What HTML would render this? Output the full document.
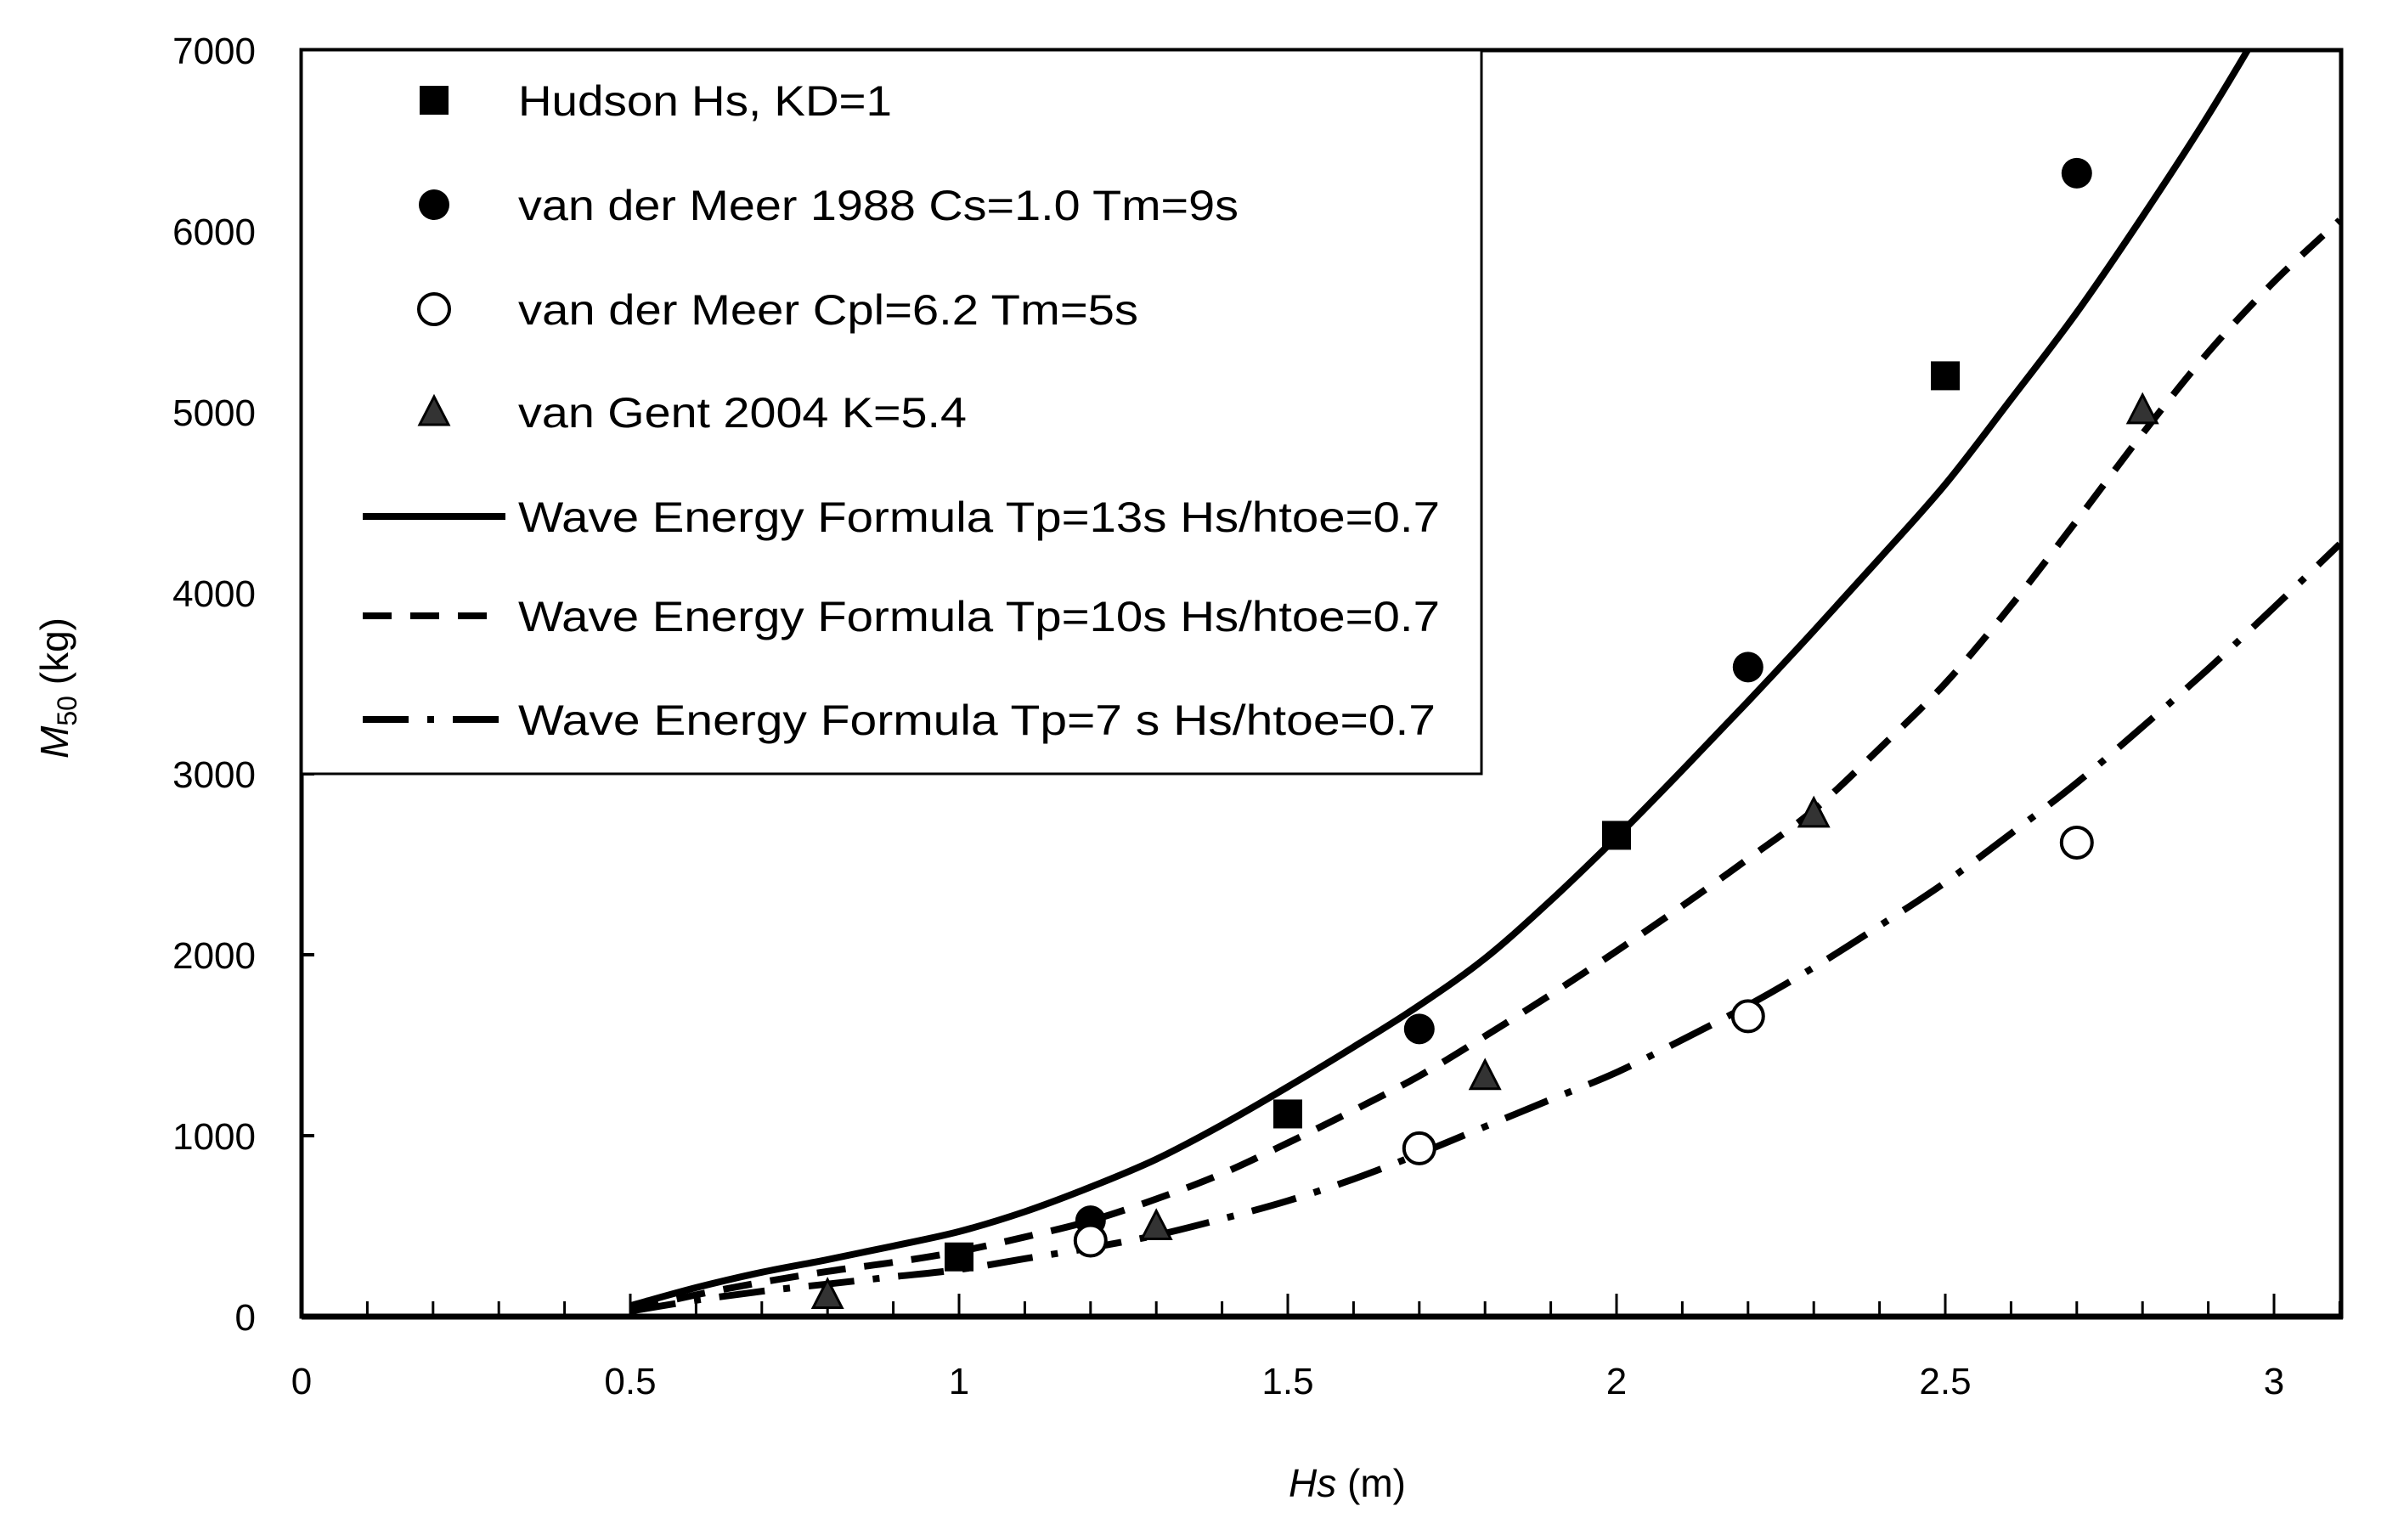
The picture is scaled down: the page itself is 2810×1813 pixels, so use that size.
<!DOCTYPE html>
<html><head><meta charset="utf-8"><style>
html,body{margin:0;padding:0;background:#fff;}
svg{display:block;font-family:"Liberation Sans",sans-serif;}
</style></head><body>
<svg id="chart" width="2810" height="1813" viewBox="0 0 2810 1813" xmlns="http://www.w3.org/2000/svg">
<defs><clipPath id="plotclip"><rect x="355" y="59" width="2401" height="1491"/></clipPath></defs>
<g id="axes"></g>
<g id="series" clip-path="url(#plotclip)"></g>
<g id="markers"></g>
<g id="legend"></g>
<text transform="translate(80,810) rotate(-90)" text-anchor="middle" font-size="46"><tspan font-style="italic">M</tspan><tspan font-size="32" dy="10">50</tspan><tspan dy="-10"> (kg)</tspan></text>
<text x="1586" y="1762" text-anchor="middle" font-size="46"><tspan font-style="italic">Hs</tspan> (m)</text>
</svg>
<script>
const xTicks=[0,0.5,1,1.5,2,2.5,3];
const yTicks=[0,1000,2000,3000,4000,5000,6000,7000];
const hudsonX=[1,1.5,2,2.5];
const hudsonY=[330,1120,2660,5200];
const vdm88X=[1.2,1.7,2.2,2.7];
const vdm88Y=[530,1590,3590,6320];
const vdmPlX=[1.2,1.7,2.2,2.7];
const vdmPlY=[420,930,1660,2620];
const gentX=[0.8,1.3,1.8,2.3,2.8];
const gentY=[120,500,1330,2780,5010];
const curveX=[0.5,0.6,0.7,0.8,0.9,1.0,1.1,1.2,1.3,1.4,1.5,1.6,1.7,1.8,1.9,2.0,2.1,2.2,2.3,2.4,2.5,2.6,2.7,2.8,2.9,3.0,3.1];
const tp13Y=[60,160,245,315,390,470,580,716,870,1060,1270,1490,1720,1980,2300,2650,3020,3400,3790,4190,4600,5070,5550,6080,6640,7250,7900];
const tp10Y=[40,120,190,250,300,360,440,530,650,790,960,1140,1330,1550,1780,2020,2270,2530,2800,3140,3500,3930,4400,4880,5330,5720,6060];
const tp7Y=[30,90,140,180,220,260,320,380,450,540,640,760,900,1050,1200,1350,1530,1720,1930,2160,2400,2670,2950,3260,3580,3920,4270];

const X0=355, XS=774, Y0=1550, YS=0.213;
const sx=v=>X0+v*XS, sy=v=>Y0-v*YS;
const NS="http://www.w3.org/2000/svg";
function mk(tag,attrs,parent){const e=document.createElementNS(NS,tag);for(const k in attrs)e.setAttribute(k,attrs[k]);parent.appendChild(e);return e;}
const axes=document.getElementById('axes'), series=document.getElementById('series'), markers=document.getElementById('markers'), legend=document.getElementById('legend');

let fr=mk('rect',{x:355,y:59,width:2401,height:1491,fill:'none',stroke:'#000','stroke-width':5},axes);


let xa=mk('line',{x1:355,y1:1550,x2:2758,y2:1550,stroke:'#000','stroke-width':7},axes);


for(let i=1;i<=31;i++){const v=i/10;const major=(i%5===0);const x=sx(v);if(x>2756)break;
 const t=mk('line',{x1:x,y1:1550,x2:x,y2:1550-(major?27:18),stroke:'#000','stroke-width':3},axes);
 
 }
xTicks.forEach(v=>{const t=mk('text',{x:sx(v),y:1641,'text-anchor':'middle','font-size':44},axes);t.textContent=String(v);
 
 });
yTicks.forEach(v=>{const y=sy(v);
 const l=mk('line',{x1:355,y1:y,x2:370,y2:y,stroke:'#000','stroke-width':4},axes);
 
 
 const t=mk('text',{x:301,y:y+16,'text-anchor':'end','font-size':44},axes);t.textContent=String(v);
 
 });

function curve(ys,dash,name){
 const pts=curveX.map((x,i)=>[sx(x),sy(ys[i])]);
 let d='M'+pts[0][0].toFixed(1)+','+pts[0][1].toFixed(1);
 for(let i=0;i<pts.length-1;i++){const p0=pts[Math.max(0,i-1)],p1=pts[i],p2=pts[i+1],p3=pts[Math.min(pts.length-1,i+2)];
  const c1=[p1[0]+(p2[0]-p0[0])/6,p1[1]+(p2[1]-p0[1])/6],c2=[p2[0]-(p3[0]-p1[0])/6,p2[1]-(p3[1]-p1[1])/6];
  d+=`C${c1[0].toFixed(1)},${c1[1].toFixed(1)} ${c2[0].toFixed(1)},${c2[1].toFixed(1)} ${p2[0].toFixed(1)},${p2[1].toFixed(1)}`;}
 const p=mk('path',{d:d,fill:'none',stroke:'#000','stroke-width':8,'stroke-dasharray':dash,'stroke-linecap':'butt'},series);
 
 }
curve(tp13Y,'none','curve-tp13');
curve(tp10Y,'34,22','curve-tp10');
curve(tp7Y,'54,22,8,22','curve-tp7');

function square(x,y,g){return mk('rect',{x:x-17,y:y-17,width:34,height:34,fill:'#000'},g);}
function disc(x,y,g){return mk('circle',{cx:x,cy:y,r:18,fill:'#000'},g);}
function ring(x,y,g){return mk('circle',{cx:x,cy:y,r:18,fill:'#fff',stroke:'#000','stroke-width':4},g);}
function tri(x,y,g){return mk('path',{d:`M${x},${y-18}L${x+17},${y+15}L${x-17},${y+15}Z`,fill:'#333',stroke:'#000','stroke-width':3},g);}
hudsonX.forEach((v,i)=>{const e=square(sx(v),sy(hudsonY[i]),markers);});
vdm88X.forEach((v,i)=>{const e=disc(sx(v),sy(vdm88Y[i]),markers);});
vdmPlX.forEach((v,i)=>{const e=ring(sx(v),sy(vdmPlY[i]),markers);});
gentX.forEach((v,i)=>{const e=tri(sx(v),sy(gentY[i]),markers);});

let lb=mk('rect',{x:355,y:59,width:1389,height:852,fill:'#fff',stroke:'#000','stroke-width':3},legend);


const rows=[
 {y:118,t:'Hudson Hs, KD=1',k:'sq',w:440},
 {y:241,t:'van der Meer 1988 Cs=1.0 Tm=9s',k:'disc',w:848},
 {y:364,t:'van der Meer Cpl=6.2 Tm=5s',k:'ring',w:730},
 {y:485,t:'van Gent 2004 K=5.4',k:'tri',w:528},
 {y:608,t:'Wave Energy Formula Tp=13s Hs/htoe=0.7',k:'none',w:1085},
 {y:725,t:'Wave Energy Formula Tp=10s Hs/htoe=0.7',k:'34,22',w:1085},
 {y:847,t:'Wave Energy Formula Tp=7 s  Hs/htoe=0.7',k:'54,22,8,22',w:1080}];
rows.forEach(r=>{
 let m;
 if(r.k==='sq')m=square(511,r.y,legend);else if(r.k==='disc')m=disc(511,r.y,legend);
 else if(r.k==='ring')m=ring(511,r.y,legend);else if(r.k==='tri')m=tri(511,r.y,legend);
 else m=mk('line',{x1:427,y1:r.y,x2:595,y2:r.y,stroke:'#000','stroke-width':8,'stroke-dasharray':r.k},legend);
 
 
 const t=mk('text',{x:610,y:r.y+18,'font-size':50,textLength:r.w,lengthAdjust:'spacingAndGlyphs'},legend);
 t.setAttribute('xml:space','preserve');
 t.textContent=r.t;
 
 
});
</script>
</body></html>
